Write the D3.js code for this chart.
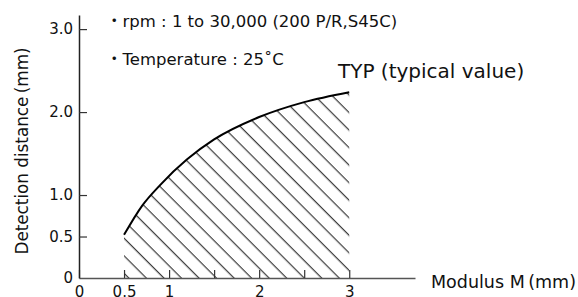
<!DOCTYPE html>
<html lang="en">
<head>
<meta charset="utf-8">
<title></title>
<script src="https://cdn.jsdelivr.net/npm/d3@7/dist/d3.min.js"></script>
<style>
  body { margin: 0; background: #fff; }
  text { font-family: "DejaVu Sans", "Noto Sans CJK JP", sans-serif; fill: #111; }
</style>
</head>
<body>
<script>
// chart data
var modulus  = [0.5, 0.7, 0.9, 1.2, 1.5, 2.0, 2.5, 3.0];
var distance = [0.52, 0.87, 1.12, 1.43, 1.67, 1.94, 2.12, 2.24];
var xTicks = [0, 0.5, 1, 1.5, 2, 2.5, 3];
var xTickLabels = ["0", "0.5", "1", "", "2", "", "3"];
var yTicks = [0, 0.5, 1, 2, 3];
var yTickLabels = ["0", "0.5", "1.0", "2.0", "3.0"];
var notes = ["・rpm : 1 to 30,000 (200 P/R,S45C)", "・Temperature : 25\u02DAC"];

var w = 578, h = 297;
var fonts = "'DejaVu Sans', 'Noto Sans CJK JP', sans-serif";

var svg = d3.select("body").append("svg")
  .attr("width", w)
  .attr("height", h);

var x = d3.scaleLinear().domain([0, 3.73]).range([79, 415]);
var y = d3.scaleLinear().domain([0, 3.17]).range([278, 15]);

var pts = modulus.map(function(m, i) { return [m, distance[i]]; });

// hatch pattern
var defs = svg.append("defs");
defs.append("pattern")
  .attr("id", "hatch")
  .attr("patternUnits", "userSpaceOnUse")
  .attr("width", 12.4)
  .attr("height", 12.4)
  .attr("patternTransform", "rotate(-45)")
  .append("line")
  .attr("x1", 6).attr("y1", 0)
  .attr("x2", 6).attr("y2", 12.4)
  .attr("stroke", "#111")
  .attr("stroke-width", 1);

var area = d3.area()
  .x(function(d) { return x(d[0]); })
  .y0(y(0))
  .y1(function(d) { return y(d[1]); })
  .curve(d3.curveMonotoneX);

svg.append("path")
  .datum(pts)
  .attr("d", area)
  .attr("fill", "url(#hatch)");

var line = d3.line()
  .x(function(d) { return x(d[0]); })
  .y(function(d) { return y(d[1]); })
  .curve(d3.curveMonotoneX);

svg.append("path")
  .datum(pts)
  .attr("d", line)
  .attr("fill", "none")
  .attr("stroke", "#000")
  .attr("stroke-width", 2);

// axes
var xAxis = d3.axisBottom(x)
  .tickValues(xTicks)
  .tickSizeInner(-8)
  .tickSizeOuter(0)
  .tickPadding(8)
  .tickFormat(function(d, i) { return xTickLabels[i]; });

var yAxis = d3.axisLeft(y)
  .tickValues(yTicks)
  .tickSizeInner(-8)
  .tickSizeOuter(0)
  .tickPadding(6)
  .tickFormat(function(d, i) { return yTickLabels[i]; });

var gx = svg.append("g")
  .attr("transform", "translate(0," + y(0) + ")")
  .call(xAxis);

var gy = svg.append("g")
  .attr("transform", "translate(" + x(0) + ",0)")
  .call(yAxis);

gx.select(".domain").attr("stroke", "#555").attr("stroke-width", 1.5);
gy.select(".domain").attr("stroke", "#222").attr("stroke-width", 1.5);
[gx, gy].forEach(function(g) {
  g.selectAll(".tick line").attr("stroke", "#333").attr("stroke-width", 1.2);
  g.selectAll(".tick text")
    .style("font-size", "15px")
    .style("font-family", fonts)
    .attr("fill", "#111");
});
gx.selectAll(".tick text").attr("dy", "0.74em");
gy.selectAll(".tick").filter(function(d) { return d === 0; }).select("line").remove();

// axis titles
svg.append("text")
  .attr("transform", "translate(28," + 151 + ") rotate(-90)")
  .attr("text-anchor", "middle")
  .style("font-size", "16.8px")
  .text("Detection distance\u2009(mm)");

svg.append("text")
  .attr("x", 431)
  .attr("y", 288)
  .style("font-size", "17.5px")
  .text("Modulus M\u2009(mm)");

// notes
svg.selectAll(".note")
  .data(notes)
  .enter()
  .append("text")
  .attr("class", "note")
  .attr("x", 106)
  .attr("y", function(d, i) { return 27 + i * 38; })
  .style("font-size", "16.5px")
  .text(function(d) { return d; });

svg.append("text")
  .attr("x", 338)
  .attr("y", 78)
  .style("font-size", "20px")
  .text("TYP (typical value)");
</script>
</body>
</html>
